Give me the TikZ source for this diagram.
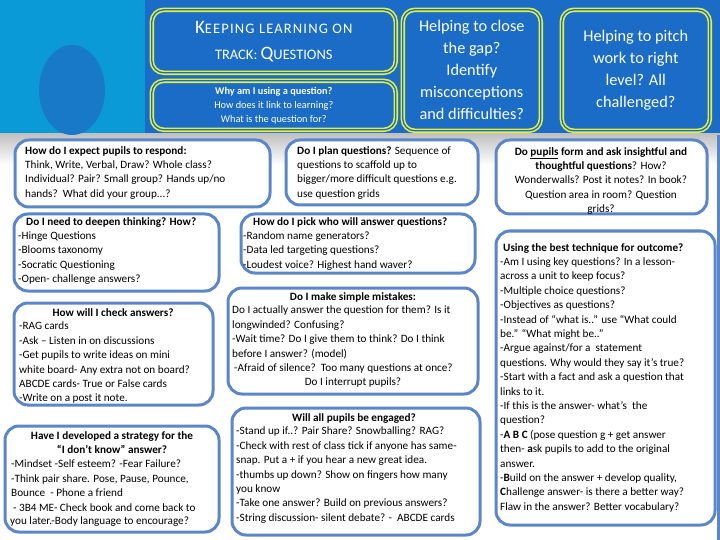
\documentclass[tikz,border=0pt]{standalone}
\usepackage{fontspec}
\setmainfont{Carlito}
\definecolor{lblue}{HTML}{0A9AD8}
\definecolor{dblue}{HTML}{1A6CC6}
\definecolor{circ}{HTML}{1779C8}
\definecolor{bord}{HTML}{5B86C9}
\definecolor{yel}{HTML}{E6F03C}
\tikzset{
 ybox/.style={draw=yel,line width=1.6pt,double=dblue,double distance=1.3pt,fill=dblue,rounded corners=12pt,text=white,align=center,inner sep=0pt},
 wbox/.style={draw=bord,line width=3pt,fill=white,rounded corners=14pt},
 txt/.style={anchor=north west,align=left,inner sep=0pt,font=\fontsize{11.2}{14.4}\selectfont},
 ctxt/.style={anchor=north,align=center,inner sep=0pt,font=\fontsize{11.2}{14.4}\selectfont},
}
\newcommand{\bigs}[1]{{\fontsize{19}{26}\selectfont #1}}
\newcommand{\smls}[1]{{\fontsize{14.5}{26}\selectfont #1}}
\begin{document}
\begin{tikzpicture}[x=1pt,y=-1pt]
\useasboundingbox (0,0) rectangle (720,540);
\fill[white] (0,0) rectangle (720,540);
\shade[top color=black!25,bottom color=white] (0,133) rectangle (720,165);
\fill[lblue] (0,0) rectangle (145,133);
\fill[dblue] (145,0) rectangle (720,133);
\fill[circ] (72,90) ellipse (33 and 45);
\fill[bord] (717,135) rectangle (720,540);
% top boxes
\node[ybox,minimum width=244pt,minimum height=63pt,anchor=north west,font=\fontsize{14.5}{26}\selectfont] (title) at (151,9)
 {\addfontfeatures{LetterSpace=8}\bigs{K}\smls{EEPING LEARNING ON}\\\smls{TRACK: }\bigs{Q}\smls{UESTIONS}};
\node[ybox,minimum width=244pt,minimum height=49pt,anchor=north west,font=\fontsize{10.3}{14}\selectfont] (why) at (151,80)
 {\textbf{Why am I using a question?}\\How does it link to learning?\\What is the question for?};
\node[ybox,minimum width=138pt,minimum height=121pt,anchor=north west,font=\fontsize{16.3}{22}\selectfont] (gap) at (402,9)
 {Helping to close\\the gap?\\Identify\\misconceptions\\and difficulties?};
\node[ybox,minimum width=148pt,minimum height=121pt,anchor=north west,font=\fontsize{16.3}{22}\selectfont] (pitch) at (561,9)
 {Helping to pitch\\work to right\\level? All\\challenged?};
% white boxes
\draw[wbox] (15,140) rectangle (270,207);
\node[txt] (t1) at (25,146) {\textbf{How do I expect pupils to respond:}\\Think, Write, Verbal, Draw? Whole class?\\Individual? Pair? Small group? Hands up/no\\hands?\ \ What did your group...?};
\draw[wbox] (286,140) rectangle (478,205);
\node[txt] (t2) at (297,146) {\textbf{Do I plan questions?} Sequence of\\questions to scaffold up to\\bigger/more difficult questions e.g.\\use question grids};
\draw[wbox] (14,214) rectangle (219,291);
\node[txt] (t3) at (18,217) {\hspace*{8pt}\textbf{Do I need to deepen thinking? How?}\\-Hinge Questions\\-Blooms taxonomy\\-Socratic Questioning\\-Open- challenge answers?};
\draw[wbox] (241,214) rectangle (475,273);
\node[txt] (t4) at (243,217) {\hspace*{10pt}\textbf{How do I pick who will answer questions?}\\-Random name generators?\\-Data led targeting questions?\\-Loudest voice? Highest hand waver?};
\draw[wbox] (228,288) rectangle (478,394);
\node[ctxt] (t5) at (353,292) {\textbf{Do I make simple mistakes:}};
\node[txt] (t5b) at (232,306) {Do I actually answer the question for them? Is it\\longwinded? Confusing?\\-Wait time? Do I give them to think? Do I think\\before I answer? (model)\\\hspace*{2pt}-Afraid of silence?\ \ Too many questions at once?};
\node[ctxt] (t5c) at (353,378) {Do I interrupt pupils?};
\draw[wbox] (14,303) rectangle (213,405);
\node[ctxt] (t6) at (113,308) {\textbf{How will I check answers?}};
\node[txt] (t6b) at (19,322) {-RAG cards\\-Ask – Listen in on discussions\\-Get pupils to write ideas on mini\\white board- Any extra not on board?\\ABCDE cards- True or False cards\\-Write on a post it note.};
\draw[wbox] (232,408) rectangle (480,535);
\node[ctxt] (t7) at (354,413) {\textbf{Will all pupils be engaged?}};
\node[txt] (t7b) at (236,427) {-Stand up if..? Pair Share? Snowballing? RAG?\\-Check with rest of class tick if anyone has same-\\snap. Put a + if you hear a new great idea.\\-thumbs up down? Show on fingers how many\\you know\\-Take one answer? Build on previous answers?\\-String discussion- silent debate? -\ \ ABCDE cards};
\draw[wbox] (5,426) rectangle (219,532);
\node[ctxt] (t8) at (112,431) {\textbf{Have I developed a strategy for the}\\\textbf{“I don’t know” answer?}};
\node[txt] (t8b) at (11,460) {-Mindset -Self esteem? -Fear Failure?\\-Think pair share. Pose, Pause, Pounce,\\Bounce\ \ - Phone a friend\\\hspace*{2pt}- 3B4 ME- Check book and come back to};
\node[txt] (t8c) at (10,517) {you later.-Body language to encourage?};
\draw[wbox] (496,140) rectangle (707,214);
\node[ctxt] (t9) at (601,147) {\textbf{Do \underline{pupils} form and ask insightful and}\\\textbf{thoughtful questions}? How?\\Wonderwalls? Post it notes? In book?\\Question area in room? Question\\grids?};
\draw[wbox] (496,231) rectangle (715,525);
\node[txt] (t10) at (500,243) {\hspace*{3pt}\textbf{Using the best technique for outcome?}\\-Am I using key questions? In a lesson-\\across a unit to keep focus?\\-Multiple choice questions?\\-Objectives as questions?\\-Instead of “what is..” use “What could\\be.” “What might be..”\\-Argue against/for a\ \ statement\\questions. Why would they say it’s true?\\-Start with a fact and ask a question that\\links to it.\\-If this is the answer- what’s\ \ the\\question?\\-\textbf{A B C} (pose question g + get answer\\then- \textbf{a}sk pupils to add to the original\\answer.\\-\textbf{B}uild on the answer + develop quality,\\\textbf{C}hallenge answer- is there a better way?\\Flaw in the answer? Better vocabulary?};
\end{tikzpicture}
\end{document}
